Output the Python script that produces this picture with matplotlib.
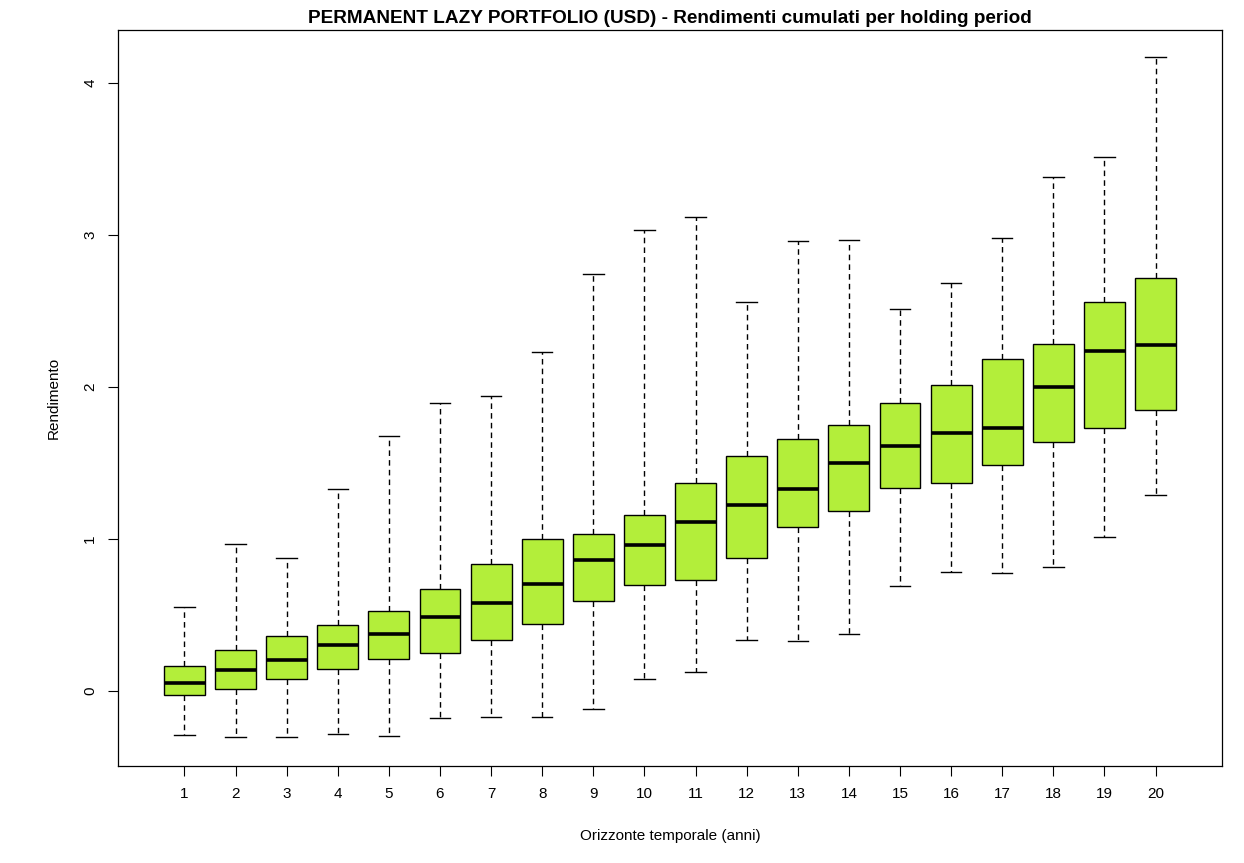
import matplotlib
matplotlib.use("Agg")
import matplotlib.pyplot as plt

plt.rcParams['font.family'] = ['Liberation Sans', 'DejaVu Sans']

# Horizon in years and box stats
years = list(range(1, 21))
whislo = [-0.29, -0.30, -0.30, -0.283, -0.296, -0.178, -0.171, -0.171, -0.118, 0.079,
          0.125, 0.336, 0.329, 0.375, 0.691, 0.783, 0.776, 0.816, 1.013, 1.289]
q1 = [-0.028, 0.013, 0.079, 0.145, 0.211, 0.25, 0.336, 0.441, 0.592, 0.697,
      0.73, 0.875, 1.079, 1.184, 1.336, 1.368, 1.487, 1.638, 1.73, 1.849]
med = [0.057, 0.138, 0.204, 0.303, 0.375, 0.487, 0.579, 0.704, 0.862, 0.96,
       1.112, 1.223, 1.329, 1.50, 1.612, 1.697, 1.73, 2.0, 2.237, 2.276]
q3 = [0.164, 0.274, 0.362, 0.434, 0.526, 0.671, 0.836, 1.0, 1.033, 1.158,
      1.368, 1.546, 1.658, 1.75, 1.895, 2.013, 2.184, 2.283, 2.559, 2.717]
whishi = [0.553, 0.967, 0.875, 1.329, 1.678, 1.895, 1.941, 2.23, 2.743, 3.033,
          3.118, 2.559, 2.96, 2.967, 2.513, 2.684, 2.98, 3.382, 3.513, 4.171]

stats = []
for i in range(len(years)):
	stats.append({'whislo': whislo[i], 'q1': q1[i], 'med': med[i],
		'q3': q3[i], 'whishi': whishi[i], 'fliers': []})

fig = plt.figure(figsize=(12.44, 8.63), dpi=100)
ax = fig.add_axes([118/1244, 1 - 766/863, (1222-118)/1244, (766-30)/863])

ax.bxp(stats, positions=years, widths=0.8, patch_artist=True, showfliers=False,
	boxprops=dict(facecolor='#B3EE3A', edgecolor='black', linewidth=1.0),
	medianprops=dict(color='black', linewidth=2.6, solid_capstyle='butt'),
	whiskerprops=dict(color='black', linewidth=1.0, linestyle=(0, (4, 3))),
	capprops=dict(color='black', linewidth=1.0), capwidths=0.4)

ax.set_xlim(-0.3, 21.3)
ax.set_ylim(-0.492, 4.35)
ax.set_xticks(years)
ax.set_xticklabels([str(y) for y in years])
ax.set_yticks([0, 1, 2, 3, 4])
ax.set_yticklabels(['0', '1', '2', '3', '4'], rotation=90, va='center')
ax.tick_params(direction='out', length=7, width=0.8, labelsize=11, pad=8)
for s in ax.spines.values():
	s.set_linewidth(0.9)

ax.set_title("PERMANENT LAZY PORTFOLIO (USD) - Rendimenti cumulati per holding period",
	fontsize=13.7, fontweight='bold', pad=5)
ax.set_xlabel("Orizzonte temporale (anni)", fontsize=11, labelpad=20)
ax.set_ylabel("Rendimento", fontsize=11, labelpad=16)

fig.savefig("out.png", dpi=100)
